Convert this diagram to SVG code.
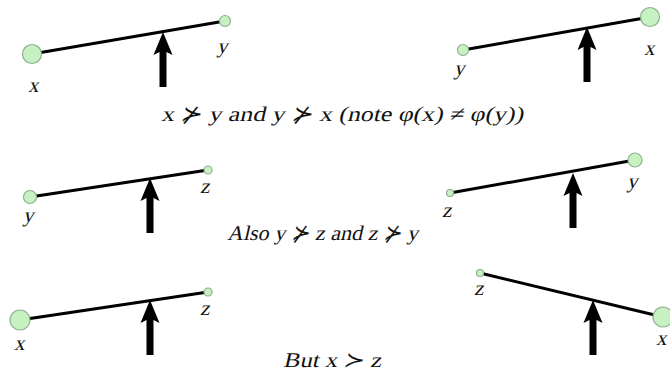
<svg xmlns="http://www.w3.org/2000/svg" width="670" height="377" viewBox="0 0 670 377">
<style>
.beam{stroke:#000;stroke-width:3;stroke-linecap:round}
.ball{fill:#c6f2c2;stroke:#8fae8f;stroke-width:1.2}
text{font-family:'Liberation Serif','Times New Roman',serif;fill:#111}
.lbl{font-size:21px}
.txt{font-size:21px}
</style>
<defs>
<g id="arrow"><path d="M-3.5,0 L-3.5,-35 L-9.5,-32 L0,-55 L9.5,-32 L3.5,-35 L3.5,0 Z" fill="#000"/></g>
</defs>
<g id="p1">
<line class="beam" x1="32" y1="54" x2="225" y2="21"/>
<circle class="ball" cx="32" cy="54" r="9.5"/>
<circle class="ball" cx="225" cy="21" r="5.5"/>
<use href="#arrow" x="163" y="87"/>
<text class="lbl" transform="translate(28,92) skewX(-13)">x</text>
<text class="lbl" transform="translate(217,53) skewX(-13)">y</text>
</g>
<g id="p2">
<line class="beam" x1="463" y1="50" x2="650" y2="17"/>
<circle class="ball" cx="463" cy="50" r="5.5"/>
<circle class="ball" cx="650" cy="17" r="9.5"/>
<use href="#arrow" x="587" y="82"/>
<text class="lbl" transform="translate(454,75) skewX(-13)">y</text>
<text class="lbl" transform="translate(644,55) skewX(-13)">x</text>
</g>
<g id="p3">
<line class="beam" x1="30" y1="197" x2="208" y2="170"/>
<circle class="ball" cx="30" cy="197" r="6.5"/>
<circle class="ball" cx="208" cy="170" r="4"/>
<use href="#arrow" x="150" y="233"/>
<text class="lbl" transform="translate(23,222) skewX(-13)">y</text>
<text class="lbl" transform="translate(200,193) skewX(-13)">z</text>
</g>
<g id="p4">
<line class="beam" x1="450" y1="193" x2="635" y2="160"/>
<circle class="ball" cx="450" cy="193" r="3.5"/>
<circle class="ball" cx="635" cy="160" r="7"/>
<use href="#arrow" x="573" y="228"/>
<text class="lbl" transform="translate(442,217) skewX(-13)">z</text>
<text class="lbl" transform="translate(627,188) skewX(-13)">y</text>
</g>
<g id="p5">
<line class="beam" x1="20" y1="320" x2="208" y2="292"/>
<circle class="ball" cx="20" cy="320" r="10"/>
<circle class="ball" cx="208" cy="292" r="4"/>
<use href="#arrow" x="150" y="355"/>
<text class="lbl" transform="translate(14,350) skewX(-13)">x</text>
<text class="lbl" transform="translate(200,315) skewX(-13)">z</text>
</g>
<g id="p6">
<line class="beam" x1="480" y1="273" x2="663" y2="317"/>
<circle class="ball" cx="480" cy="273" r="3.5"/>
<circle class="ball" cx="663" cy="317" r="10"/>
<use href="#arrow" x="593" y="355"/>
<text class="lbl" transform="translate(474,295) skewX(-13)">z</text>
<text class="lbl" transform="translate(656,345) skewX(-13)">x</text>
</g>
<g id="captions">
<text class="txt" transform="translate(161,121) skewX(-13)" textLength="362" lengthAdjust="spacingAndGlyphs">x ⊁ y and y ⊁ x (note φ(x) ≠ φ(y))</text>
<text class="txt" transform="translate(227,240) skewX(-13)" textLength="191" lengthAdjust="spacingAndGlyphs">Also y ⊁ z and z ⊁ y</text>
<text class="txt" transform="translate(283,367) skewX(-13)" textLength="98" lengthAdjust="spacingAndGlyphs">But x ≻ z</text>
</g>
</svg>
